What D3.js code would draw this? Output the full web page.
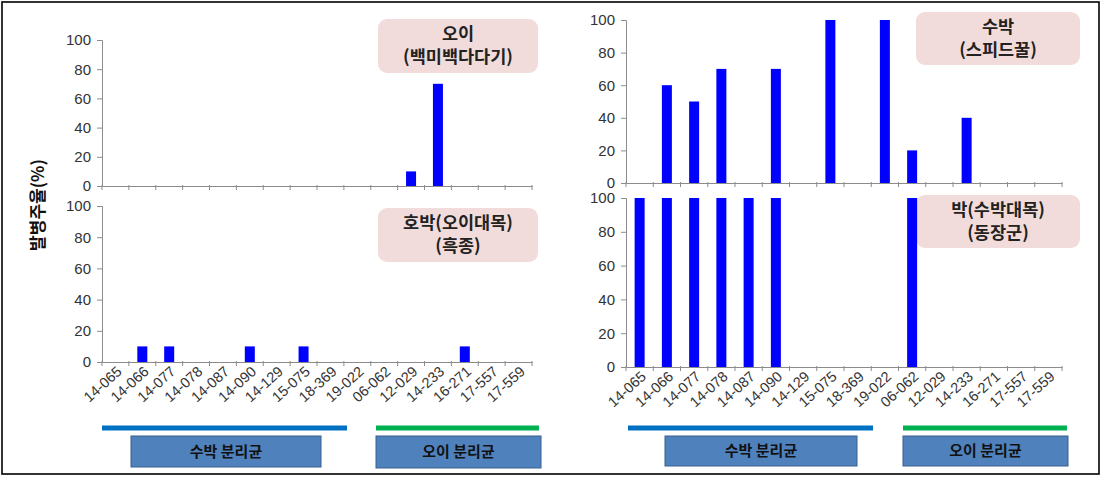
<!DOCTYPE html>
<html><head><meta charset="utf-8">
<script src="https://cdn.jsdelivr.net/npm/d3@7"></script>
<style>
body{margin:0;background:#fff;}
svg{display:block;}
</style></head>
<body>
<svg id="chart" width="1102" height="477"></svg>
<script>
// ---- data ----
const categories = ["14-065","14-066","14-077","14-078","14-087","14-090","14-129","15-075","18-369","19-022","06-062","12-029","14-233","16-271","17-557","17-559"];
const cucumberValues   = [0,0,0,0,0,0,0,0,0,0,0,10,70,0,0,0];
const pumpkinValues    = [0,10,10,0,0,10,0,10,0,0,0,0,0,10,0,0];
const watermelonValues = [0,60,50,70,0,70,0,100,0,100,20,0,40,0,0,0];
const gourdValues      = [100,100,100,100,100,100,0,0,0,0,100,0,0,0,0,0];
const yTicks = [0,20,40,60,80,100];
const panelTitles = [["오이","(백미백다다기)"],["호박(오이대목)","(흑종)"],["수박","(스피드꿀)"],["박(수박대목)","(동장군)"]];
const groupLabels = ["수박 분리균","오이 분리균"];
const yAxisTitle = "발병주율(%)";

// ---- layout ----
const svg = d3.select("#chart");
const NUM_FONT = "'Liberation Sans', Arial, sans-serif";
const KR_FONT = "'Noto Sans CJK KR', 'Noto Sans', sans-serif";

const panels = [
  {values:cucumberValues,   x0:102, x1:532, yTop:40,  yBot:186, title:panelTitles[0], box:[378,19,160,54],  labels:false},
  {values:pumpkinValues,    x0:102, x1:532, yTop:206, yBot:362, title:panelTitles[1], box:[378,208,160,54], labels:true},
  {values:watermelonValues, x0:626, x1:1062,yTop:20,  yBot:183, title:panelTitles[2], box:[916,12,164,53],  labels:false},
  {values:gourdValues,      x0:626, x1:1062,yTop:198, yBot:367, title:panelTitles[3], box:[916,195,164,53], labels:true}
];

// outer frame
svg.append("rect").attr("x",2).attr("y",2).attr("width",1097).attr("height",472)
  .attr("fill","none").attr("stroke","#000").attr("stroke-width",1.6);

panels.forEach(p => {
  const x = d3.scaleBand().domain(categories).range([p.x0,p.x1]).paddingInner(0).paddingOuter(0);
  const y = d3.scaleLinear().domain([0,100]).range([p.yBot,p.yTop]);
  const g = svg.append("g");

  // title box
  g.append("rect").attr("x",p.box[0]).attr("y",p.box[1]).attr("width",p.box[2]).attr("height",p.box[3])
    .attr("rx",9).attr("fill","#f2dcdb");
  p.title.forEach((t,i) => {
    g.append("text").attr("x",p.box[0]+p.box[2]/2).attr("y",p.box[1]+21+i*23)
      .attr("text-anchor","middle").attr("font-family",KR_FONT).attr("font-weight","bold")
      .attr("font-size",17.5).attr("fill","#222").text(t);
  });

  // bars
  const bw = 10;
  g.selectAll("rect.bar").data(p.values).join("rect").attr("class","bar")
    .attr("x",(d,i)=>x(categories[i])+x.bandwidth()/2-bw/2)
    .attr("y",d=>y(d)).attr("width",bw).attr("height",d=>y(0)-y(d))
    .attr("fill","#0000ff");

  // y axis
  const ya = g.append("g").attr("transform",`translate(${p.x0},0)`)
    .call(d3.axisLeft(y).tickValues(yTicks).tickSize(5).tickPadding(6));
  ya.select(".domain").attr("stroke","#8c8c8c");
  ya.selectAll(".tick line").attr("stroke","#8c8c8c");
  ya.selectAll(".tick text").attr("font-family",NUM_FONT).attr("font-size",15).attr("fill","#333");

  // x axis
  const xa = g.append("g").attr("transform",`translate(0,${p.yBot})`)
    .call(d3.axisBottom(x).tickSize(0).tickFormat(""));
  xa.select(".domain").attr("stroke","#8c8c8c");
  const bounds = categories.map(c=>x(c)).concat([p.x1]);
  g.selectAll("line.xt").data(bounds).join("line").attr("class","xt")
    .attr("x1",d=>d).attr("x2",d=>d).attr("y1",p.yBot-1).attr("y2",p.yBot+4)
    .attr("stroke","#8c8c8c");

  if (p.labels) {
    g.selectAll("text.xl").data(categories).join("text").attr("class","xl")
      .attr("transform",c=>`translate(${x(c)+x.bandwidth()/2+4},${p.yBot+7}) rotate(-42)`)
      .attr("text-anchor","end").attr("dy","0.35em")
      .attr("font-family",NUM_FONT).attr("font-size",14.5).attr("fill","#333").text(c=>c);
  }
});

// group markers below bottom panels
const groupLayout = [
  {x0:102, blueEnd:347, greenStart:376, greenEnd:539, box1:[131,436,190,31], box2:[376,436,165,32]},
  {x0:628, blueEnd:873, greenStart:903, greenEnd:1067, box1:[665,436,192,30], box2:[903,436,165,30]}
];
groupLayout.forEach(l => {
  svg.append("line").attr("x1",l.x0).attr("x2",l.blueEnd).attr("y1",428).attr("y2",428)
    .attr("stroke","#0070c0").attr("stroke-width",5);
  svg.append("line").attr("x1",l.greenStart).attr("x2",l.greenEnd).attr("y1",428).attr("y2",428)
    .attr("stroke","#00b050").attr("stroke-width",5);
  [l.box1,l.box2].forEach((b,i)=>{
    svg.append("rect").attr("x",b[0]).attr("y",b[1]).attr("width",b[2]).attr("height",b[3])
      .attr("fill","#4f81bd").attr("stroke","#3a5f8c").attr("stroke-width",1);
    svg.append("text").attr("x",b[0]+b[2]/2).attr("y",b[1]+b[3]/2).attr("dy","0.35em")
      .attr("text-anchor","middle").attr("font-family",KR_FONT).attr("font-weight","bold")
      .attr("font-size",15).attr("fill","#111").text(groupLabels[i]);
  });
});

// y-axis title
svg.append("text").attr("transform","translate(38,205) rotate(-90)")
  .attr("text-anchor","middle").attr("dy","0.35em")
  .attr("font-family",KR_FONT).attr("font-weight","bold").attr("font-size",17).attr("fill","#111")
  .text(yAxisTitle);
</script>
</body></html>
